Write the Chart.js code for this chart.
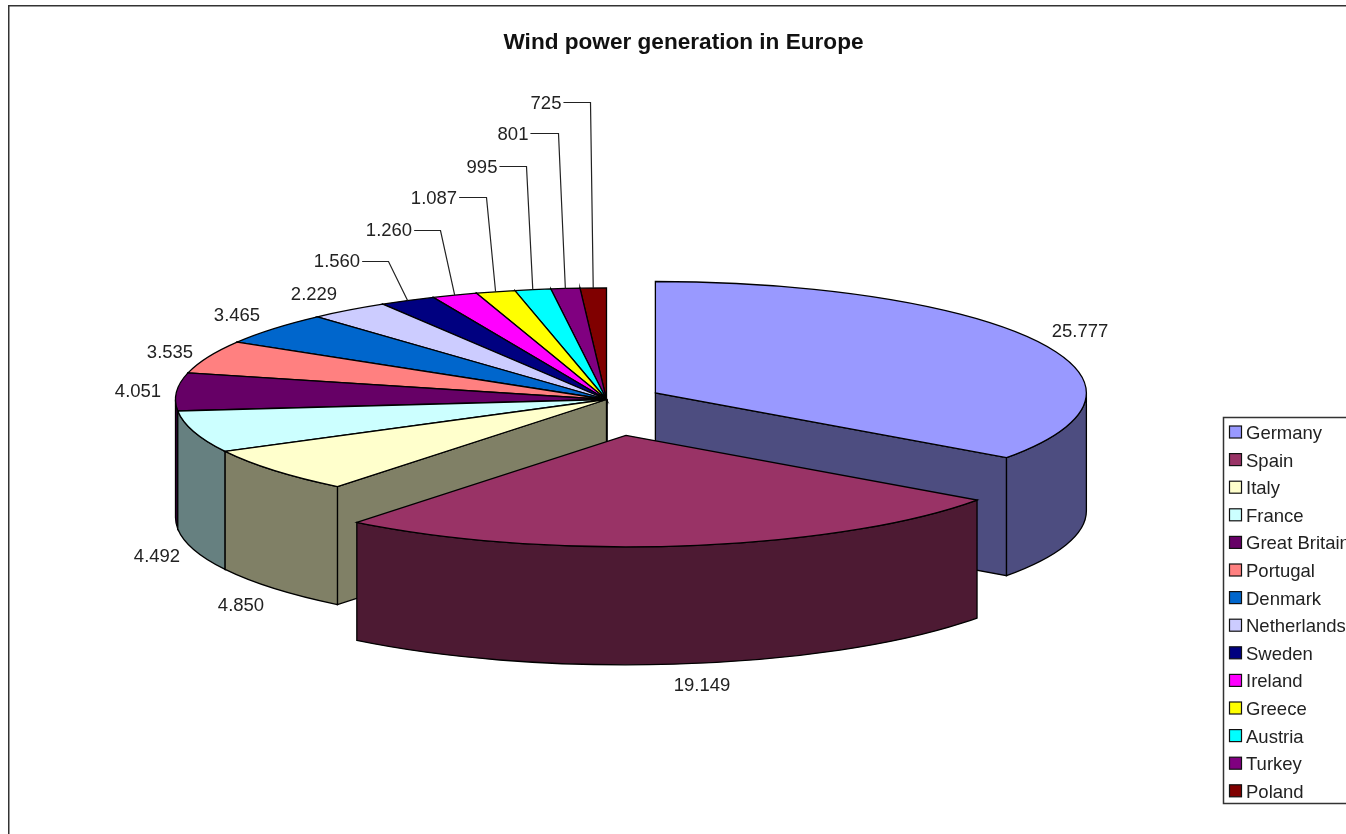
<!DOCTYPE html>
<html>
<head>
<meta charset="utf-8">
<title>Wind power generation in Europe</title>
<script src="https://cdn.jsdelivr.net/npm/chart.js@4/dist/chart.umd.min.js"></script>
<style>
  html, body { margin: 0; padding: 0; background: #fff; overflow: hidden; }
  #wrap { width: 1346px; height: 834px; overflow: hidden; }
  canvas { display: block; }
</style>
</head>
<body>
<div id="wrap"><canvas id="windChart" width="1367" height="834"></canvas></div>
<script>
  var countries = ['Germany', 'Spain', 'Italy', 'France', 'Great Britain', 'Portugal', 'Denmark',
    'Netherlands', 'Sweden', 'Ireland', 'Greece', 'Austria', 'Turkey', 'Poland'];
  var megawatts = [25777, 19149, 4850, 4492, 4051, 3535, 3465, 2229, 1560, 1260, 1087, 995, 801, 725];

  var topColors = ['#9999ff', '#993366', '#ffffcc', '#ccffff', '#660066', '#ff8080', '#0066cc',
    '#ccccff', '#000080', '#ff00ff', '#ffff00', '#00ffff', '#800080', '#800000'];
  var sideColors = ['#4d4d80', '#4d1a33', '#808066', '#668080', '#330033', '#804040', '#003366',
    '#666680', '#000040', '#800080', '#808000', '#008080', '#400040', '#400000'];

  // how far each slice is pulled out of the pie
  var pullOut = [55, 140, 0, 0, 0, 0, 0, 0, 0, 0, 0, 0, 0, 0];

  // text centre of each value label, the last six also get an elbow for their leader line
  var labelSpots = [[1080, 332], [702, 686], [241, 606], [157, 557], [138, 392], [170, 353], [237, 316],
    [314, 295], [337, 262], [389, 231], [434, 199], [482, 168], [513, 135], [546, 104]];
  var leaderElbows = [null, null, null, null, null, null, null, null,
    [388, 261], [440, 230], [486, 197], [526, 166], [558, 133], [590, 102]];

  var pieX = 606.5, pieY = 399.5, tilt = 0.2587, depth = 118;

  function dotted(n) {
    return String(n).replace(/\B(?=(\d{3})+$)/g, '.');
  }

  // traces a slice outline in screen space, so strokes keep an even width
  function slicePath(c, x, y, r, start, end) {
    c.beginPath();
    c.moveTo(x, y);
    c.ellipse(x, y, r, r * tilt, 0, start, end);
    c.closePath();
  }

  function sideFace(c, x, y, r, angle) {
    var ex = x + Math.cos(angle) * r;
    var ey = y + Math.sin(angle) * r * tilt;
    c.beginPath();
    c.moveTo(x, y);
    c.lineTo(ex, ey);
    c.lineTo(ex, ey + depth);
    c.lineTo(x, y + depth);
    c.closePath();
    c.fill();
    c.stroke();
  }

  function drawValueLabels(chart) {
    var c = chart.ctx;
    var arcs = chart.getDatasetMeta(0).data;
    c.save();
    c.font = '18.5px "Liberation Sans"';
    c.fillStyle = '#222';
    c.textAlign = 'center';
    c.textBaseline = 'middle';
    megawatts.forEach(function (v, i) {
      c.fillText(dotted(v), labelSpots[i][0], labelSpots[i][1]);
      if (leaderElbows[i]) {
        var mid = (arcs[i].startAngle + arcs[i].endAngle) / 2;
        var w = c.measureText(dotted(v)).width;
        c.strokeStyle = '#222';
        c.lineWidth = 1.2;
        c.beginPath();
        c.moveTo(labelSpots[i][0] + w / 2 + 2, leaderElbows[i][1] + 0.5);
        c.lineTo(leaderElbows[i][0] + 0.5, leaderElbows[i][1] + 0.5);
        c.lineTo(pieX + Math.cos(mid) * arcs[i].outerRadius, pieY + Math.sin(mid) * arcs[i].outerRadius * tilt);
        c.stroke();
      }
    });
    c.restore();
  }

  function drawFrameAndLegend(chart) {
    var c = chart.ctx;
    c.save();

    // page frame, only its top and left edges are in view
    c.strokeStyle = '#333';
    c.lineWidth = 1.5;
    c.beginPath();
    c.moveTo(1367, 5.75);
    c.lineTo(8.75, 5.75);
    c.lineTo(8.75, 834);
    c.stroke();

    c.lineWidth = 1.5;
    c.strokeRect(1223.5, 417.5, 160, 386);
    c.font = '18.5px "Liberation Sans"';
    c.textAlign = 'left';
    c.textBaseline = 'middle';
    countries.forEach(function (name, i) {
      var y = 432 + i * 27.6;
      c.fillStyle = topColors[i];
      c.strokeStyle = '#111';
      c.lineWidth = 1.2;
      c.fillRect(1229.5, y - 6, 12, 12);
      c.strokeRect(1229.5, y - 6, 12, 12);
      c.fillStyle = '#222';
      c.fillText(name, 1246, y + 2);
    });
    c.restore();
  }

  var tiltedPie = {
    id: 'tiltedPie',
    beforeDatasetsDraw: function (chart) {
      var c = chart.ctx;
      var arcs = chart.getDatasetMeta(0).data;

      // back slices first, the front ones paint over them
      var order = arcs.map(function (a, i) { return i; }).sort(function (p, q) {
        var mp = (arcs[p].startAngle + arcs[p].endAngle) / 2;
        var mq = (arcs[q].startAngle + arcs[q].endAngle) / 2;
        return Math.sin(mp) - Math.sin(mq);
      });

      order.forEach(function (i) {
        var arc = arcs[i];
        var mid = (arc.startAngle + arc.endAngle) / 2;
        var x = pieX + Math.cos(mid) * pullOut[i];
        var y = pieY + Math.sin(mid) * pullOut[i] * tilt;
        var r = arc.outerRadius;

        c.save();
        c.lineWidth = 1.3;
        c.strokeStyle = '#000';
        c.fillStyle = sideColors[i];

        // cut faces, only when they turn towards the viewer
        if (Math.cos(arc.startAngle) < 0) sideFace(c, x, y, r, arc.startAngle);
        if (Math.cos(arc.endAngle) > 0) sideFace(c, x, y, r, arc.endAngle);

        // outer wall, the same goes for it
        var a = Math.max(arc.startAngle, 0);
        var b = Math.min(arc.endAngle, Math.PI);
        if (a < b) {
          c.beginPath();
          c.ellipse(x, y, r, r * tilt, 0, a, b);
          c.ellipse(x, y + depth, r, r * tilt, 0, b, a, true);
          c.closePath();
          c.fill();
          c.stroke();
        }

        // the top of the slice is the library's own arc, squashed into the tilt
        c.save();
        c.translate(x, y);
        c.scale(1, tilt);
        c.translate(-arc.x, -arc.y);
        arc.draw(c);
        c.restore();

        slicePath(c, x, y, r, arc.startAngle, arc.endAngle);
        c.stroke();
        c.restore();
      });
      return false;
    },
    afterDraw: function (chart) {
      drawValueLabels(chart);
      drawFrameAndLegend(chart);
    }
  };

  new Chart(document.getElementById('windChart'), {
    type: 'pie',
    data: {
      labels: countries,
      datasets: [{
        label: 'Wind power generation in Europe',
        data: megawatts,
        backgroundColor: topColors,
        borderWidth: 0
      }]
    },
    options: {
      responsive: false,
      animation: false,
      events: [],
      radius: 431,
      plugins: {
        legend: { display: false },
        tooltip: { enabled: false },
        title: {
          display: true,
          text: 'Wind power generation in Europe',
          color: '#111',
          font: { family: '"Liberation Sans"', size: 22.6, weight: 'bold' },
          padding: { top: 29, bottom: 10 }
        }
      }
    },
    plugins: [tiltedPie]
  });
</script>
</body>
</html>
